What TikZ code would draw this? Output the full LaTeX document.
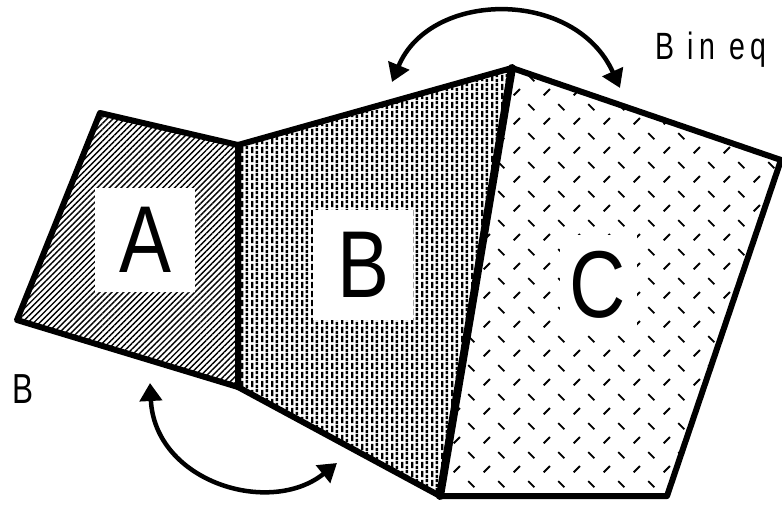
\documentclass[tikz,border=0pt]{standalone}
\usepackage{fontspec}
\setmainfont{Liberation Sans}
\newfontfamily\bigfont[FakeStretch=0.82]{Liberation Sans}
\newfontfamily\notefont[FakeStretch=0.75,LetterSpace=15]{Liberation Sans}
\usetikzlibrary{arrows.meta,patterns.meta}

\pgfdeclarepattern{
  name=brickdash, type=uncolored,
  bottom left={\pgfpoint{0pt}{0pt}},
  top right={\pgfpoint{10pt}{9pt}},
  tile size={\pgfpoint{10pt}{9pt}},
  code={
    \pgfsetlinewidth{2.6pt}
    \pgfpathmoveto{\pgfpoint{2.5pt}{1pt}}\pgfpathlineto{\pgfpoint{2.5pt}{8pt}}
    \pgfpathmoveto{\pgfpoint{7.5pt}{5.5pt}}\pgfpathlineto{\pgfpoint{7.5pt}{9pt}}
    \pgfpathmoveto{\pgfpoint{7.5pt}{0pt}}\pgfpathlineto{\pgfpoint{7.5pt}{3.5pt}}
    \pgfusepath{stroke}
  }
}
\pgfdeclarepattern{
  name=zigdash, type=uncolored,
  bottom left={\pgfpoint{0pt}{0pt}},
  top right={\pgfpoint{30pt}{29pt}},
  tile size={\pgfpoint{30pt}{29pt}},
  code={
    \pgfsetlinewidth{1.9pt}
    \pgfpathmoveto{\pgfpoint{3.8pt}{3.8pt}}\pgfpathlineto{\pgfpoint{10.2pt}{10.2pt}}
    \pgfpathmoveto{\pgfpoint{18.8pt}{24.7pt}}\pgfpathlineto{\pgfpoint{25.2pt}{18.3pt}}
    \pgfusepath{stroke}
  }
}

\begin{document}
\begin{tikzpicture}[x=1pt, y=-1pt,
    outline/.style={draw, line width=6pt, line join=round},
    lbl/.style={fill=white, inner sep=0pt, font=\bigfont\fontsize{95}{95}\selectfont},
    swing/.style={line width=4.5pt, {Triangle[length=18pt,width=22pt]}-{Triangle[length=18pt,width=22pt]}},
    note/.style={inner sep=0pt, anchor=base west}]
    \path[use as bounding box, fill=white] (0,0) rectangle (782,505);

    \coordinate (a1) at (100,113);
    \coordinate (a2) at (238,145);
    \coordinate (a3) at (238,387);
    \coordinate (a4) at (17,320);
    \coordinate (b2) at (512,68);
    \coordinate (b3) at (440,496);
    \coordinate (c2) at (781,160);
    \coordinate (c3) at (667,496);

    \path[outline, pattern={Lines[angle=45,distance=4.2pt,line width=1.4pt]}]
        (a1) -- (a2) -- (a3) -- (a4) -- cycle;
    \path[outline, pattern=brickdash] (a2) -- (b2) -- (b3) -- (a3) -- cycle;
    \path[outline, pattern=zigdash] (b2) -- (c2) -- (c3) -- (b3) -- cycle;
    \draw[line width=8pt, line cap=round] (b2) -- (b3);

    \node[lbl, minimum width=100pt, minimum height=104pt] (labA) at (145,240) {A};
    \node[lbl, minimum width=100pt, minimum height=110pt] (labB) at (363,265) {B};
    \node[lbl, minimum width=77pt, minimum height=100pt] (labC) at (598,285) {C};

    \coordinate (t1) at (392,82);
    \coordinate (t2) at (620,88);
    \draw[swing] (t1) .. controls (430,-10) and (575,-12) .. (t2);
    \coordinate (u1) at (150,383);
    \coordinate (u2) at (337,463);
    \draw[swing] (u1) .. controls (155,482) and (270,517) .. (u2);

    \node[note, font=\notefont\fontsize{38}{38}\selectfont] (beq) at (655,60) {B in eq};
    \node[note, font=\notefont\fontsize{42}{42}\selectfont] (bside) at (12,403) {B};
\end{tikzpicture}
\end{document}
